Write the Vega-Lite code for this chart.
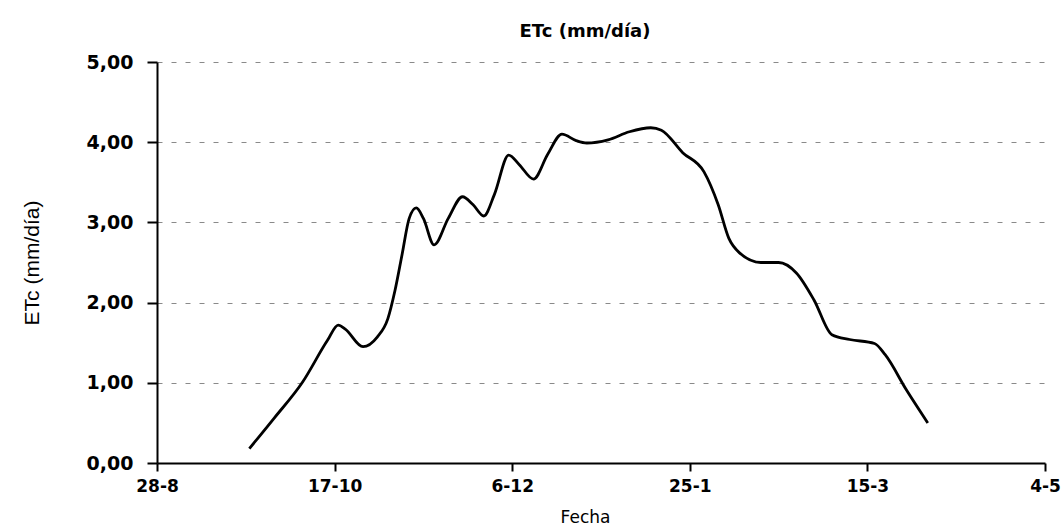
{
  "$schema": "https://vega.github.io/schema/vega-lite/v6.json",
  "autosize": {"type": "none"},
  "width": 888,
  "height": 401,
  "padding": {"left": 157, "top": 62, "right": 18, "bottom": 68},
  "background": "white",
  "title": {
    "text": "ETc (mm/día)",
    "font": "DejaVu Sans",
    "fontSize": 18,
    "fontWeight": "bold",
    "color": "black",
    "anchor": "middle",
    "dx": -16,
    "offset": 12
  },
  "data": {
    "values": [
      {"fecha": "2003-09-23", "etc": 0.18},
      {"fecha": "2003-09-30", "etc": 0.56},
      {"fecha": "2003-10-08", "etc": 1.01},
      {"fecha": "2003-10-15", "etc": 1.53},
      {"fecha": "2003-10-18", "etc": 1.72},
      {"fecha": "2003-10-20", "etc": 1.67},
      {"fecha": "2003-10-25", "etc": 1.45},
      {"fecha": "2003-10-29", "etc": 1.57},
      {"fecha": "2003-11-01", "etc": 1.8},
      {"fecha": "2003-11-03", "etc": 2.15},
      {"fecha": "2003-11-05", "etc": 2.6},
      {"fecha": "2003-11-07", "etc": 3.05},
      {"fecha": "2003-11-09", "etc": 3.18},
      {"fecha": "2003-11-11", "etc": 3.05},
      {"fecha": "2003-11-14", "etc": 2.72},
      {"fecha": "2003-11-18", "etc": 3.05},
      {"fecha": "2003-11-22", "etc": 3.32},
      {"fecha": "2003-11-25", "etc": 3.22},
      {"fecha": "2003-11-28", "etc": 3.08},
      {"fecha": "2003-12-01", "etc": 3.35},
      {"fecha": "2003-12-05", "etc": 3.84},
      {"fecha": "2003-12-08", "etc": 3.72},
      {"fecha": "2003-12-12", "etc": 3.54},
      {"fecha": "2003-12-16", "etc": 3.85},
      {"fecha": "2003-12-20", "etc": 4.1},
      {"fecha": "2003-12-24", "etc": 4.02},
      {"fecha": "2003-12-27", "etc": 3.99},
      {"fecha": "2004-01-02", "etc": 4.03},
      {"fecha": "2004-01-08", "etc": 4.13},
      {"fecha": "2004-01-14", "etc": 4.18},
      {"fecha": "2004-01-17", "etc": 4.15},
      {"fecha": "2004-01-23", "etc": 3.87},
      {"fecha": "2004-01-29", "etc": 3.63},
      {"fecha": "2004-02-02", "etc": 3.22},
      {"fecha": "2004-02-05", "etc": 2.8},
      {"fecha": "2004-02-08", "etc": 2.62},
      {"fecha": "2004-02-14", "etc": 2.5},
      {"fecha": "2004-02-19", "etc": 2.5},
      {"fecha": "2004-02-24", "etc": 2.37},
      {"fecha": "2004-02-29", "etc": 2.03},
      {"fecha": "2004-03-05", "etc": 1.6},
      {"fecha": "2004-03-10", "etc": 1.54},
      {"fecha": "2004-03-17", "etc": 1.49},
      {"fecha": "2004-03-20", "etc": 1.35},
      {"fecha": "2004-03-26", "etc": 0.91},
      {"fecha": "2004-04-01", "etc": 0.5}
    ]
  },
  "mark": {"type": "line", "color": "black", "strokeWidth": 2.8, "interpolate": "monotone"},
  "encoding": {
    "x": {
      "field": "fecha",
      "type": "temporal",
      "scale": {
        "type": "utc",
        "domain": [
          {"year": 2003, "month": 8, "date": 28, "utc": true},
          {"year": 2004, "month": 5, "date": 4, "utc": true}
        ]
      },
      "axis": {
        "title": "Fecha",
        "values": [
          {"year": 2003, "month": 8, "date": 28, "utc": true},
          {"year": 2003, "month": 10, "date": 17, "utc": true},
          {"year": 2003, "month": 12, "date": 6, "utc": true},
          {"year": 2004, "month": 1, "date": 25, "utc": true},
          {"year": 2004, "month": 3, "date": 15, "utc": true},
          {"year": 2004, "month": 5, "date": 4, "utc": true}
        ],
        "labelExpr": "utcFormat(datum.value, '%-d-%-m')",
        "grid": false,
        "domainColor": "black",
        "domainWidth": 2,
        "tickColor": "black",
        "tickWidth": 2,
        "tickSize": 8,
        "labelFont": "DejaVu Sans",
        "labelFontSize": 17,
        "labelFontWeight": "bold",
        "labelColor": "black",
        "labelPadding": 7,
        "labelFlush": false,
        "labelOverlap": false,
        "titleFont": "DejaVu Sans",
        "titleFontSize": 17,
        "titleFontWeight": "normal",
        "titleColor": "black",
        "titlePadding": 15,
        "titleX": 428
      }
    },
    "y": {
      "field": "etc",
      "type": "quantitative",
      "scale": {"domain": [0, 5], "nice": false, "zero": true},
      "axis": {
        "title": "ETc (mm/día)",
        "values": [0, 1, 2, 3, 4, 5],
        "labelExpr": "replace(format(datum.value, '.2f'), '.', ',')",
        "grid": true,
        "gridColor": "#8a8a8a",
        "gridDash": [5, 9],
        "gridWidth": 1,
        "domainColor": "black",
        "domainWidth": 2,
        "tickColor": "black",
        "tickWidth": 2,
        "tickSize": 10,
        "labelFont": "DejaVu Sans",
        "labelFontSize": 19,
        "labelFontWeight": "bold",
        "labelColor": "black",
        "labelPadding": 14,
        "titleFont": "Liberation Sans",
        "titleFontSize": 21,
        "titleFontWeight": "normal",
        "titleColor": "black",
        "titlePadding": 44
      }
    }
  },
  "config": {"view": {"stroke": null}}
}
